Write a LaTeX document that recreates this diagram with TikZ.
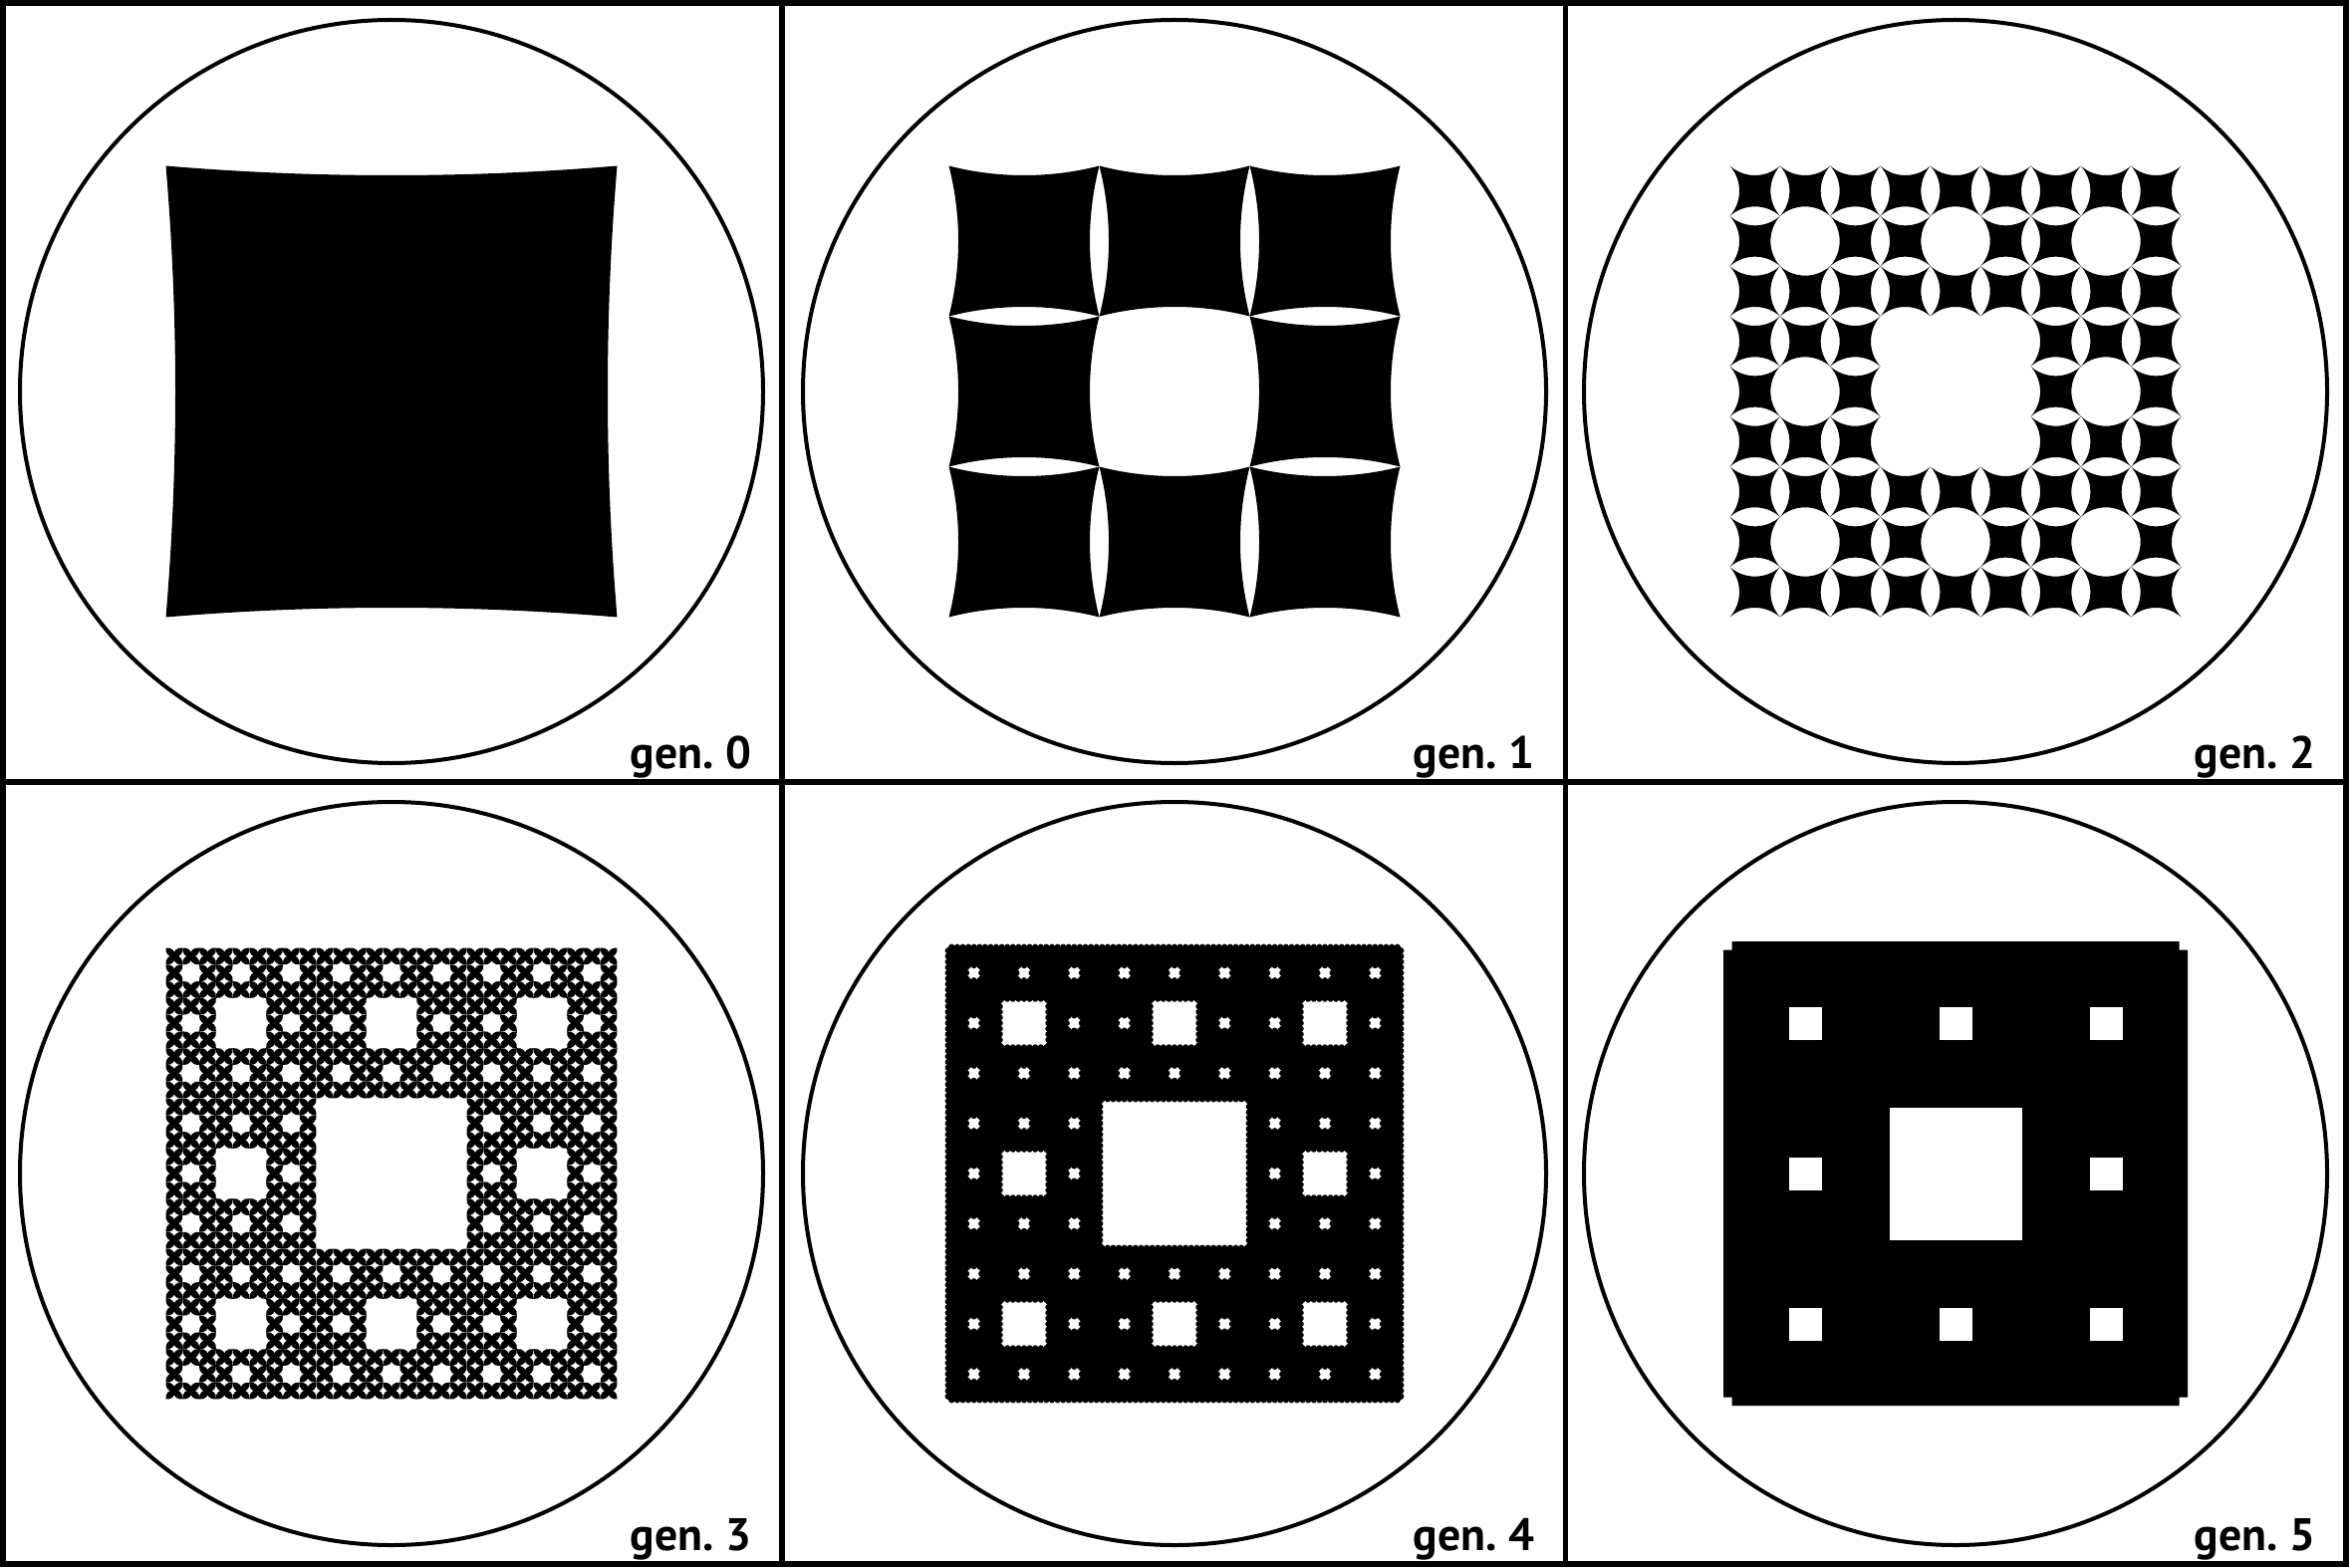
\documentclass[tikz,border=0pt]{standalone}
\usepackage{fontspec}
\newfontfamily\genfont{PT Sans}
\usepackage{tikz}
\usetikzlibrary{positioning}

% inward dip of every cell side, and its control offset
\newcommand\sagdip{9.5}
\newcommand\sagoff{12.667}

% one curved cell: top-left corner #1,#2, side #3
\newcommand\gencell[3]{%
  \pgfmathsetmacro\cR{#1+#3}%
  \pgfmathsetmacro\cB{#2+#3}%
  \pgfmathsetmacro\cT{max(\sagoff/tan(2*atan(2*\sagdip/#3)),-4)}%
  \fill (#1,#2) .. controls +(\cT,\sagoff) and +(-\cT,\sagoff) .. (\cR,#2)
    .. controls +(-\sagoff,\cT) and +(-\sagoff,-\cT) .. (\cR,\cB)
    .. controls +(-\cT,-\sagoff) and +(\cT,-\sagoff) .. (#1,\cB)
    .. controls +(\sagoff,-\cT) and +(\sagoff,\cT) .. (#1,#2) -- cycle;%
}

% carpet: level #1, top-left #2,#3, side #4
\newcommand\carpet[4]{%
  \ifnum#1=0
    \gencell{#2}{#3}{#4}%
  \else
    \pgfmathsetmacro\cS{#4/3}%
    \foreach \i in {0,1,2}{%
      \foreach \j in {0,1,2}{%
        \ifnum\i\j=11\relax\else
          \pgfmathsetmacro\nx{#2+\i*\cS}%
          \pgfmathsetmacro\ny{#3+\j*\cS}%
          \edef\next{\noexpand\carpet{\the\numexpr#1-1\relax}{\nx}{\ny}{\cS}}%
          \next
        \fi}}%
  \fi}

\begin{document}
\begin{tikzpicture}[x=0.01cm, y=-0.01cm,
    panelline/.style={line width=0.057cm},
    ring/.style={line width=0.04cm},
    genlabel/.style={anchor=base east, inner sep=0pt,
      font=\genfont\bfseries\fontsize{13pt}{15pt}\selectfont}]
  \useasboundingbox (0,0) rectangle (2358,1573);

  % frame
  \draw[panelline] (2.85,2.85) rectangle (2355.15,1570.15);
  \draw[panelline] (785,2.85) -- (785,1570.15);
  \draw[panelline] (1571.5,2.85) -- (1571.5,1570.15);
  \draw[panelline] (2.85,785) -- (2355.15,785);

  % rings and labels
  \foreach \n/\cx/\cy in {0/393/393, 1/1179/393, 2/1963/393,
                          3/393/1178, 4/1179/1178, 5/1963/1178}{
    \draw[ring] (\cx,\cy) circle[radius=373];
    \node[genlabel] (gen\n) at (\cx+362,\cy+378.7) {gen.\ \n};
  }

  % gen. 0 -- gen. 4
  \carpet{0}{166.5}{166.5}{453}
  \carpet{1}{952.5}{166.5}{453}
  \carpet{2}{1736.5}{166.5}{453}
  \carpet{3}{166.5}{951.5}{453}
  \carpet{4}{952.5}{951.5}{453}

  % gen. 5
  \fill (1738.5,945) -- (2187.5,945) -- (2187.5,953.5) -- (2196,953.5)
    -- (2196,1402.5) -- (2187.5,1402.5) -- (2187.5,1411) -- (1738.5,1411)
    -- (1738.5,1402.5) -- (1730,1402.5) -- (1730,953.5) -- (1738.5,953.5) -- cycle;
  \fill[white] (1896.5,1111.5) rectangle (2029.5,1244.5);
  \foreach \i in {0,1,2}{
    \foreach \j in {0,1,2}{
      \ifnum\i\j=11\relax\else
        \fill[white] (1812+151*\i-16.5,1027+151*\j-16.5) rectangle ++(33,33);
      \fi}}
\end{tikzpicture}
\end{document}
